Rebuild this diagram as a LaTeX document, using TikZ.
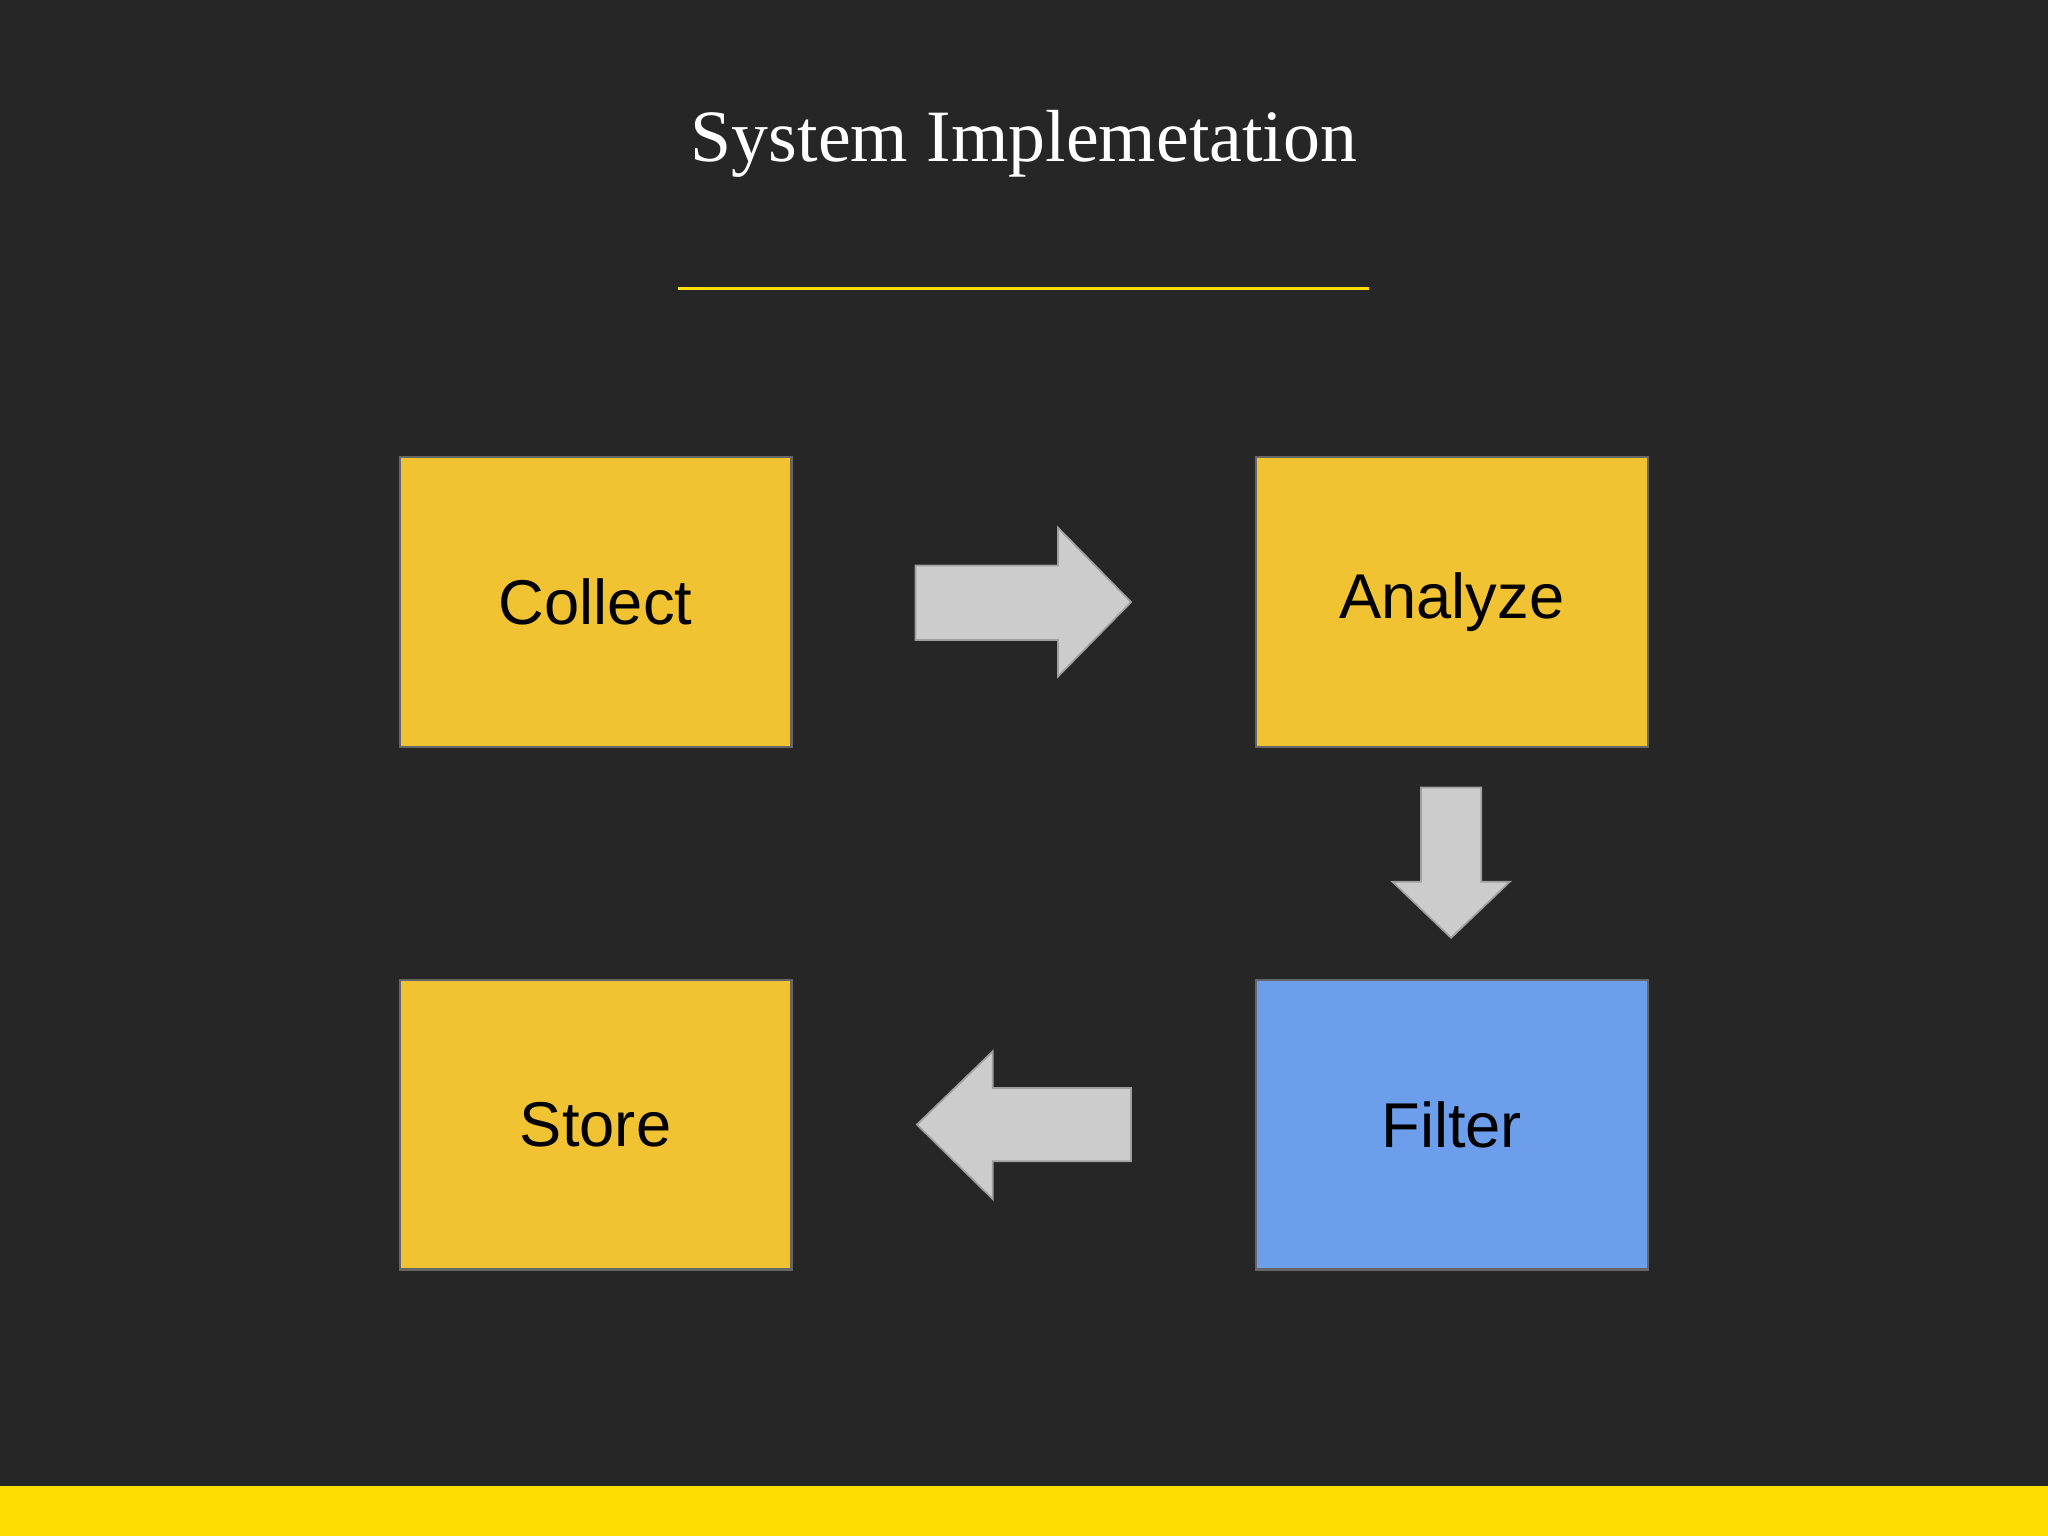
\documentclass[tikz,border=0pt]{standalone}
\usepackage{fontspec}
\setmainfont{Liberation Serif}
\newfontfamily\boxfont{Liberation Sans}
\begin{document}
\begin{tikzpicture}[x=0.01306cm,y=-0.01306cm,
  stepbox/.style={draw=gray!80!black,line width=0.6pt,minimum width=300*0.01306cm,minimum height=222*0.01306cm,inner sep=0pt,font=\boxfont\fontsize{18}{22}\selectfont,text=black},
  blockarrow/.style={fill=gray!40,draw=gray!75,line width=0.5pt}]
\useasboundingbox (0,0) rectangle (1568,1176);
\fill[black!85] (0,0) rectangle (1568,1176);
\fill[yellow!90!orange!95!white, fill={rgb,255:red,255;green,221;blue,0}] (0,1138) rectangle (1568,1176);
\node[text=white,font=\fontsize{21}{25}\selectfont] (title) at (784,110) {System Implemetation};
\draw[draw={rgb,255:red,255;green,224;blue,0},line width=0.9pt] (519,221) -- (1048,221);
\definecolor{boxy}{RGB}{241,194,50}
\definecolor{boxb}{RGB}{109,158,235}
\node[stepbox,fill=boxy] (collect) at (456,461) {Collect};
\node[stepbox,fill=boxy] (analyze) at (1111.5,461) {Analyze};
\node[stepbox,fill=boxy] (store) at (456,861) {Store};
\node[stepbox,fill=boxb] (filter) at (1111.5,861) {Filter};
\draw[blockarrow] (701,433) -- (810,433) -- (810,404) -- (866,461) -- (810,518) -- (810,490) -- (701,490) -- cycle;
\draw[blockarrow] (1088,603) -- (1134,603) -- (1134,675) -- (1156,675) -- (1111,718) -- (1066,675) -- (1088,675) -- cycle;
\draw[blockarrow] (866,833) -- (760,833) -- (760,805) -- (702,861) -- (760,918) -- (760,889) -- (866,889) -- cycle;
\end{tikzpicture}
\end{document}
